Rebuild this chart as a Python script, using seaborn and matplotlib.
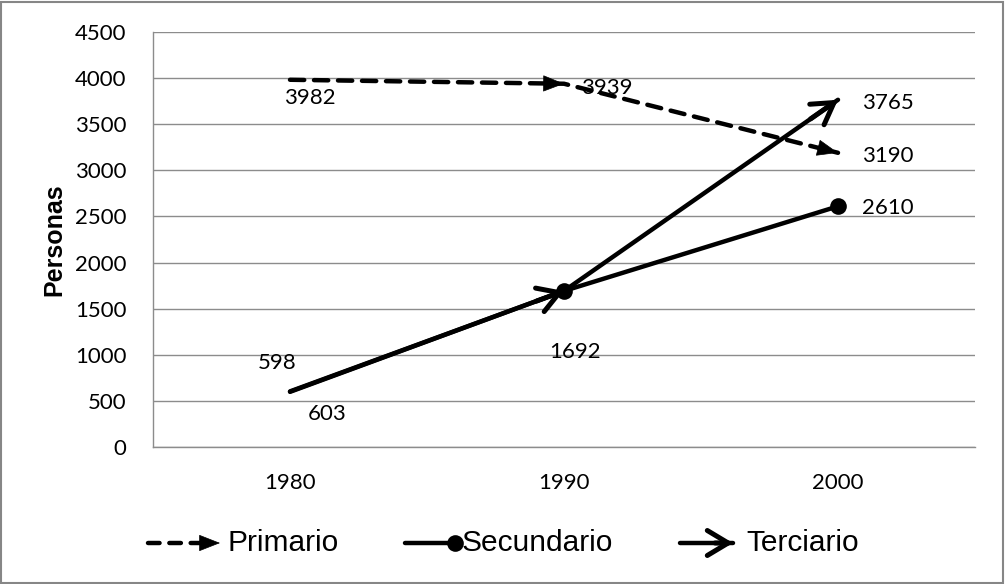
import numpy as np
import matplotlib.pyplot as plt
import seaborn as sns
from matplotlib.lines import Line2D
from matplotlib.patches import Rectangle

# data
years = ['1980', '1990', '2000']
primario = [3982, 3939, 3190]
secundario = [603, 1692, 2610]
terciario = [598, 1692, 3765]
yticks = list(range(0, 5000, 500))

sns.set_theme(style='white')
plt.rcParams['font.family'] = ['Lato', 'DejaVu Sans']

W, H = 1005, 584
fig = plt.figure(figsize=(W / 100, H / 100), dpi=100)
ax = fig.add_axes([153 / W, 1 - 447 / H, 822 / W, 415 / H])
x = np.arange(len(years))

LW = 3.2
dash = (0, (3.2, 2.2))

sns.lineplot(x=x, y=primario, ax=ax, color='black', lw=LW, linestyle=dash,
             dash_capstyle='round')
sns.lineplot(x=x, y=secundario, ax=ax, color='black', lw=LW, marker='o',
             markevery=[1, 2], markersize=12, markeredgewidth=0)
sns.lineplot(x=x, y=terciario, ax=ax, color='black', lw=LW)


# arrow heads at the end of every segment (Excel style)
def heads(vals, style, lw):
    for i in range(1, len(vals)):
        x0 = x[i - 1] + 0.9 * (x[i] - x[i - 1])
        y0 = vals[i - 1] + 0.9 * (vals[i] - vals[i - 1])
        ax.annotate('', xy=(x[i], vals[i]), xytext=(x0, y0),
                    arrowprops=dict(arrowstyle=style, color='black', lw=lw,
                                    shrinkA=0, shrinkB=0, mutation_scale=10))


heads(primario, '-|>,head_length=1.4,head_width=0.55', 0.5)
heads(terciario, '->,head_length=1.5,head_width=0.9', 3.6)

# data labels (offsets in points)
lab_fs = 16
def label(v, xi, dx, dy, ha='left'):
    ax.annotate(str(v), (xi, v), xytext=(dx, dy), textcoords='offset points',
                ha=ha, va='center', fontsize=lab_fs, color='black')

label(primario[0], x[0], 14, -13, 'center')
label(primario[1], x[1], 12, -3)
label(primario[2], x[2], 17, -2)
label(secundario[0], x[0], 27, -16, 'center')
label(secundario[1], x[1], 8, -44, 'center')
label(secundario[2], x[2], 17, -1)
label(terciario[0], x[0], -9, 21, 'center')
label(terciario[2], x[2], 17, -2)

ax.set_xlim(-0.5, 2.5)
ax.set_ylim(0, 4500)
ax.set_xticks(x)
ax.set_xticklabels(years)
ax.set_yticks(yticks)
ax.yaxis.grid(True, color='#8c8c8c', lw=1)
ax.xaxis.grid(False)
for s in ['top', 'right']:
    ax.spines[s].set_visible(False)
for s in ['left', 'bottom']:
    ax.spines[s].set_color('#8c8c8c')
    ax.spines[s].set_linewidth(1)
ax.tick_params(axis='y', length=0, pad=19, labelsize=16, colors='black')
ax.tick_params(axis='x', length=0, pad=19, labelsize=16, colors='black')
ax.set_xlabel('')
ax.set_ylabel('Personas', fontsize=18, fontweight='bold',
              family=['Liberation Sans', 'DejaVu Sans'], color='black')
ax.yaxis.set_label_coords(-0.105, 0.5)


# legend drawn by hand (markers at the line ends, like Excel)
def fp(px, py):
    return px / W, 1 - py / H

ly = 543
leg_font = dict(fontsize=21.5, family=['Liberation Sans', 'DejaVu Sans'],
                va='center', ha='left', color='black')

# Primario
(a, b), (c, d) = fp(148, ly), fp(206, ly)
fig.add_artist(Line2D([a, c], [b, d], transform=fig.transFigure, color='black',
                      lw=LW, linestyle=(0, (2.6, 2.2)), dash_capstyle='round'))
ax.annotate('', xy=fp(220, ly), xycoords='figure fraction',
            xytext=fp(203, ly), textcoords='figure fraction',
            arrowprops=dict(arrowstyle='-|>,head_length=1.4,head_width=0.55',
                            color='black', lw=0.5, shrinkA=0, shrinkB=0,
                            mutation_scale=10))
fig.text(*fp(227, ly), 'Primario', **leg_font)

# Secundario
(a, b), (c, d) = fp(405, ly), fp(455, ly)
fig.add_artist(Line2D([a, c], [b, d], transform=fig.transFigure, color='black',
                      lw=LW, marker='o', markevery=[1], markersize=12,
                      markeredgewidth=0))
fig.text(*fp(462, ly), 'Secundario', **leg_font)

# Terciario
(a, b), (c, d) = fp(680, ly), fp(733, ly)
fig.add_artist(Line2D([a, c], [b, d], transform=fig.transFigure, color='black',
                      lw=LW))
ax.annotate('', xy=fp(733, ly), xycoords='figure fraction',
            xytext=fp(715, ly), textcoords='figure fraction',
            arrowprops=dict(arrowstyle='->,head_length=1.5,head_width=0.9',
                            color='black', lw=3.6, shrinkA=0, shrinkB=0,
                            mutation_scale=10))
fig.text(*fp(746, ly), 'Terciario', **leg_font)

# outer chart border
fig.add_artist(Rectangle((0.001, 0.002), 0.997, 0.995, transform=fig.transFigure,
                         fill=False, edgecolor='#868686', lw=1.5))

fig.savefig('out.png', dpi=100)
